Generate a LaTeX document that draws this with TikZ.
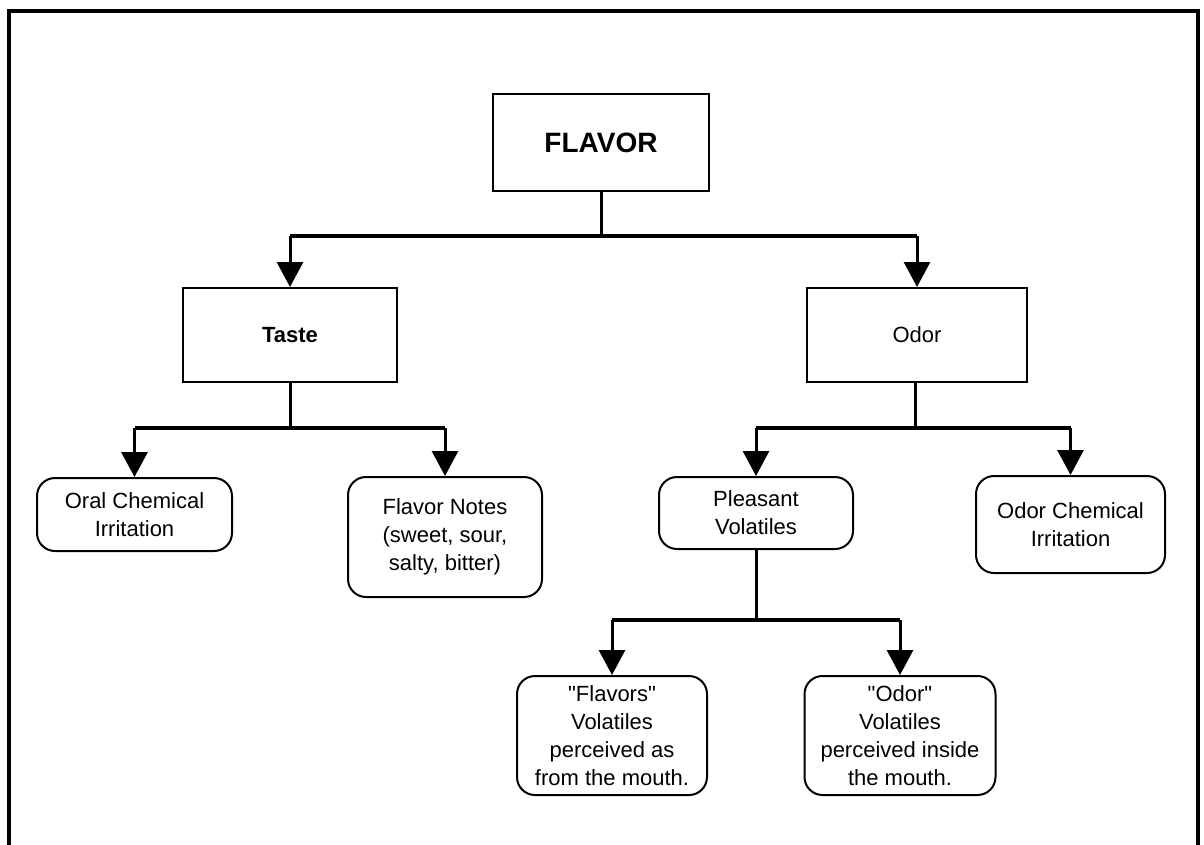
\documentclass[tikz,border=0pt]{standalone}
\usepackage{fontspec}
\setmainfont{Liberation Sans}[Ligatures=TeXOff]
\usetikzlibrary{arrows.meta}
\begin{document}
\begin{tikzpicture}[x=1pt,y=-1pt,
  box/.style={draw, line width=2pt, inner sep=0pt, align=center,
    font=\fontsize{22}{28}\selectfont},
  rbox/.style={box, rounded corners=18pt},
  conn/.style={line width=3pt},
  bar/.style={line width=4.5pt},
  arr/.style={line width=3pt, -{Triangle[width=26pt,length=25pt]}},
]
\useasboundingbox (0,0) rectangle (1204,844);
\fill[white] (0,0) rectangle (1204,844);
% frame
\draw[line width=4pt] (8.5,850) -- (8.5,11) -- (1197.5,11) -- (1197.5,850);

% nodes
\node[box, minimum width=216pt, minimum height=97pt, font=\fontsize{28}{32}\selectfont\bfseries]
  (flavor) at (601,142.5) {FLAVOR};
\node[box, minimum width=214pt, minimum height=94pt, font=\fontsize{22}{28}\selectfont\bfseries]
  (taste) at (290,335) {Taste};
\node[box, minimum width=220pt, minimum height=94pt] (odor) at (917,335) {Odor};

\node[rbox, minimum width=195pt, minimum height=73pt] (oral) at (134.5,514.5)
  {Oral Chemical\\Irritation};
\node[rbox, minimum width=194pt, minimum height=120pt] (notes) at (445,537)
  {Flavor Notes\\(sweet, sour,\\salty, bitter)};
\node[rbox, minimum width=194pt, minimum height=72pt] (pleasant) at (756,513)
  {Pleasant\\Volatiles};
\node[rbox, minimum width=189pt, minimum height=97pt] (odorchem) at (1070.5,524.5)
  {Odor Chemical\\Irritation};
\node[rbox, minimum width=190pt, minimum height=119pt] (flavors) at (612,735.5)
  {"Flavors"\\Volatiles\\perceived as\\from the mouth.};
\node[rbox, minimum width=191pt, minimum height=119pt] (odorv) at (900,735.5)
  {"Odor"\\Volatiles\\perceived inside\\the mouth.};

% junctions
\coordinate (j1) at (601,236);
\coordinate (j2) at (290,428);
\coordinate (j3) at (915,428);
\coordinate (j4) at (756,620);

% level 1
\draw[conn] (flavor.south) -- (j1);
\draw[bar] (taste.north |- j1) -- (odor.north |- j1);
\draw[arr] (taste.north |- j1) -- (taste.north);
\draw[arr] (odor.north |- j1) -- (odor.north);

% taste children
\draw[conn] (taste.south) -- (j2);
\draw[bar] (oral.north |- j2) -- (notes.north |- j2);
\draw[arr] (oral.north |- j2) -- (oral.north);
\draw[arr] (notes.north |- j2) -- (notes.north);

% odor children
\draw[conn] (odor.south -| j3) -- (j3);
\draw[bar] (pleasant.north |- j3) -- (odorchem.north |- j3);
\draw[arr] (pleasant.north |- j3) -- (pleasant.north);
\draw[arr] (odorchem.north |- j3) -- (odorchem.north);

% pleasant children
\draw[conn] (pleasant.south) -- (j4);
\draw[bar] (flavors.north |- j4) -- (odorv.north |- j4);
\draw[arr] (flavors.north |- j4) -- (flavors.north);
\draw[arr] (odorv.north |- j4) -- (odorv.north);
\end{tikzpicture}
\end{document}
